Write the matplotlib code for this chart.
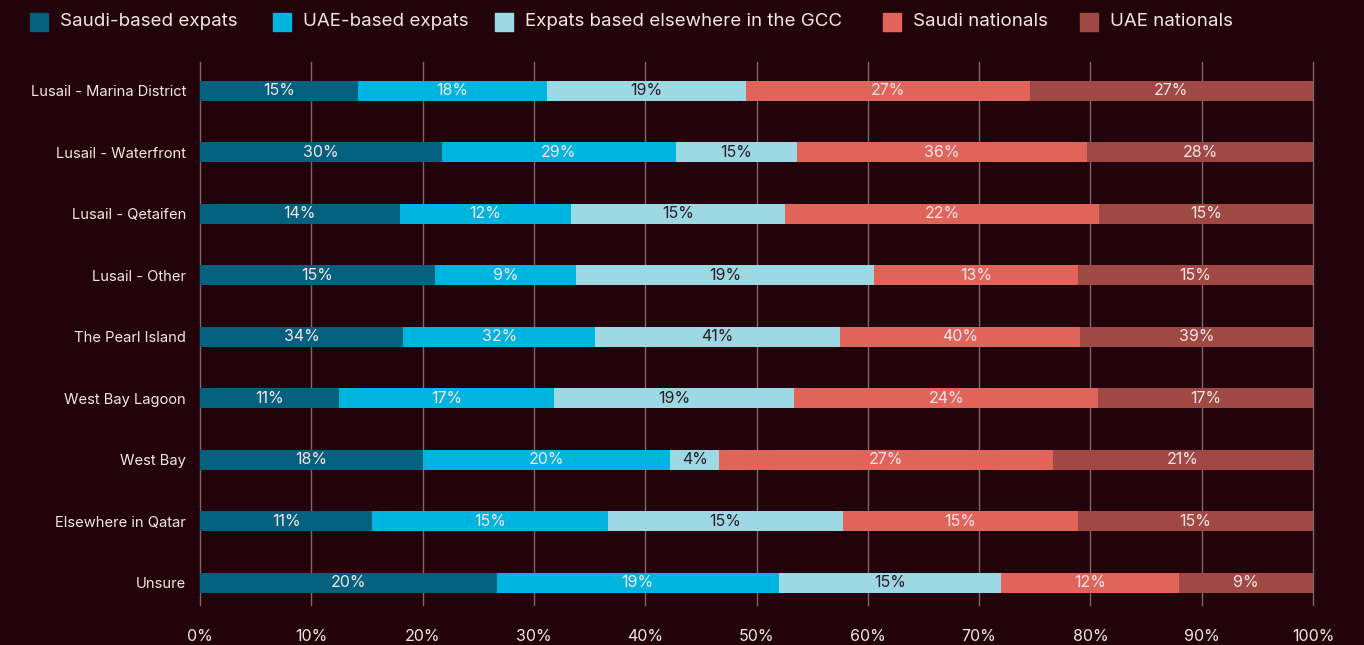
import matplotlib
matplotlib.use("Agg")
import matplotlib.pyplot as plt
import numpy as np
from matplotlib.patches import Rectangle

plt.rcParams['font.family'] = ['Inter', 'DejaVu Sans']

categories = ["Lusail - Marina District", "Lusail - Waterfront", "Lusail - Qetaifen",
              "Lusail - Other", "The Pearl Island", "West Bay Lagoon", "West Bay",
              "Elsewhere in Qatar", "Unsure"]
series_names = ["Saudi-based expats", "UAE-based expats", "Expats based elsewhere in the GCC",
                "Saudi nationals", "UAE nationals"]
saudi_expats = [15, 30, 14, 15, 34, 11, 18, 11, 20]
uae_expats = [18, 29, 12, 9, 32, 17, 20, 15, 19]
gcc_expats = [19, 15, 15, 19, 41, 19, 4, 15, 15]
saudi_nationals = [27, 36, 22, 13, 40, 24, 27, 15, 12]
uae_nationals = [27, 28, 15, 15, 39, 17, 21, 15, 9]
x_ticks = [0, 10, 20, 30, 40, 50, 60, 70, 80, 90, 100]
x_tick_labels = [f"{t}%" for t in x_ticks]

colors = ["#03607f", "#00b4e0", "#9dd8e5", "#e0645a", "#a04843"]
text_colors = ["#f4e6e8", "#f4e6e8", "#2a1c22", "#f4e6e8", "#f4e6e8"]
bg = "#22020b"
grid_color = "#7d6870"
label_color = "#f2e6e8"

values = np.array([saudi_expats, uae_expats, gcc_expats, saudi_nationals, uae_nationals], dtype=float)
totals = values.sum(axis=0)
shares = values / totals * 100

W, H = 1364, 645
fig = plt.figure(figsize=(W / 100, H / 100), dpi=100, facecolor=bg)
ax = fig.add_axes([200 / W, 1 - 605 / H, 1113 / W, (605 - 62) / H])
ax.set_facecolor(bg)

y = np.arange(len(categories))
left = np.zeros(len(categories))
for i, name in enumerate(series_names):
    ax.barh(y, shares[i], left=left, height=0.325, color=colors[i], zorder=3, linewidth=0)
    for j in range(len(categories)):
        ax.text(left[j] + shares[i][j] / 2, y[j], f"{int(values[i][j])}%",
                ha="center", va="center", fontsize=11.5, color=text_colors[i], zorder=4)
    left += shares[i]

ax.set_xlim(0, 100)
ax.set_ylim(8.36, -0.47)
ax.set_xticks(x_ticks)
ax.set_xticklabels(x_tick_labels)
ax.set_yticks(y)
ax.set_yticklabels(categories)
ax.tick_params(axis="x", length=0, labelsize=11.5, labelcolor=label_color, pad=17)
ax.tick_params(axis="y", length=0, labelsize=10.6, labelcolor=label_color, pad=10)
ax.grid(axis="x", color=grid_color, linewidth=1, zorder=1)
for gl in ax.get_xgridlines():
    gl.set_clip_on(False)
for s in ax.spines.values():
    s.set_visible(False)

# legend row across the top
legend_x = [30, 273, 495, 883, 1080]
for i, name in enumerate(series_names):
    x0 = legend_x[i]
    fig.patches.append(Rectangle((x0 / W, 1 - 31 / H), 18 / W, 18 / H,
                                 transform=fig.transFigure, color=colors[i]))
    fig.text((x0 + 30) / W, 1 - 22 / H, name, fontsize=13.5, color=label_color,
             ha="left", va="center")

fig.savefig("out.png", dpi=100, facecolor=bg)
